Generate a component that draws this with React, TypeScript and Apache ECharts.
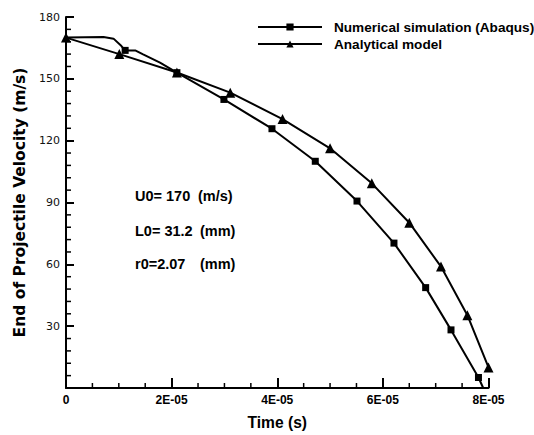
import React, { useEffect, useRef } from 'react';
import * as echarts from 'echarts';

// Numerical simulation (Abaqus): dense curve, markers on selected points
const numTime = [0, 0.71e-5, 0.9e-5, 1.05e-5, 1.12e-5, 1.31e-5, 1.46e-5, 1.78e-5, 2.1e-5, 2.99e-5, 3.9e-5, 4.72e-5, 5.51e-5, 6.21e-5, 6.81e-5, 7.29e-5, 7.81e-5, 7.9e-5];
const numVel = [170, 170.3, 169.5, 165.9, 163.8, 163.8, 161.9, 157.9, 153, 140, 125.8, 110, 90.7, 70.3, 48.7, 28.2, 5.1, 0];
const numMarker = [0, 0, 0, 0, 1, 0, 0, 0, 1, 1, 1, 1, 1, 1, 1, 1, 1, 0];

// Analytical model
const anaTime = [0, 1.01e-5, 2.1e-5, 3.11e-5, 4.1e-5, 5.0e-5, 5.79e-5, 6.5e-5, 7.1e-5, 7.6e-5, 8.0e-5];
const anaVel = [170, 162, 153.1, 143.3, 130.5, 116.3, 99.3, 80.2, 58.9, 35.3, 10];

const seriesNames = ['Numerical simulation (Abaqus)', 'Analytical model'];
const xTickLabels = ['0', '2E-05', '4E-05', '6E-05', '8E-05'];
const annotations = [
  ['U0= 170', '(m/s)'],
  ['L0= 31.2', '(mm)'],
  ['r0=2.07', '(mm)'],
];

const X_MIN = 0, X_MAX = 8e-5, X_INT = 2e-5, X_MINOR = 4;
const Y_MIN = 0, Y_MAX = 180, Y_INT = 30, Y_MINOR = 5;

// minor tick values only (major ticks come from the axes themselves)
function minorTicks(min: number, max: number, interval: number, minor: number) {
  const out: number[] = [];
  const n = Math.round((max - min) / interval) * minor;
  for (let i = 0; i <= n; i++) if (i % minor !== 0) out.push(min + (i * interval) / minor);
  return out;
}

export default function App() {
  const ref = useRef<HTMLDivElement>(null);
  useEffect(() => {
    const chart = echarts.init(ref.current!, null, { renderer: 'svg' });
    const numData = numTime.map((t, i) =>
      numMarker[i] ? { value: [t, numVel[i]] } : { value: [t, numVel[i]], symbol: 'none' }
    );
    const anaData = anaTime.map((t, i) => [t, anaVel[i]]);
    const annY = [196, 231, 264];
    const graphics: any[] = [];
    annotations.forEach((a, i) => {
      graphics.push({
        type: 'text', x: 135, y: annY[i],
        style: { text: a[0], fontFamily: 'Liberation Sans', fontWeight: 'bold', fontSize: 14.5, fill: '#000', verticalAlign: 'middle' },
      });
      graphics.push({
        type: 'text', x: i === 0 ? 198 : 200, y: annY[i],
        style: { text: a[1], fontFamily: 'Liberation Sans', fontWeight: 'bold', fontSize: 14.5, fill: '#000', verticalAlign: 'middle' },
      });
    });
    const yMid = (Y_MIN + Y_MAX) / 2;
    const xMid = (X_MIN + X_MAX) / 2;
    chart.setOption({
      animation: false,
      backgroundColor: '#fff',
      grid: { left: 66, right: 45.5, top: 17, bottom: 41 },
      legend: {
        orient: 'vertical',
        left: 257,
        top: 20,
        padding: 0,
        itemGap: 3,
        itemWidth: 64,
        itemHeight: 9,
        data: seriesNames,
        textStyle: { fontFamily: 'Liberation Sans', fontWeight: 'bold', fontSize: 13.6, color: '#000', padding: [0, 0, 0, 7] },
      },
      xAxis: {
        type: 'value',
        min: X_MIN,
        max: X_MAX,
        interval: X_INT,
        name: 'Time (s)',
        nameLocation: 'middle',
        nameGap: 26,
        nameTextStyle: { fontFamily: 'Liberation Sans', fontWeight: 'bold', fontSize: 15.6, color: '#000' },
        axisLine: { show: true, lineStyle: { color: '#000', width: 2 } },
        axisTick: { show: true, inside: true, length: 10, lineStyle: { color: '#000', width: 2 } },
        splitLine: { show: false },
        axisLabel: {
          margin: 6,
          fontFamily: 'Liberation Sans', fontWeight: 'bold', fontSize: 12, color: '#000',
          formatter: (_v: number, idx: number) => xTickLabels[idx] ?? '',
        },
      },
      yAxis: {
        type: 'value',
        min: Y_MIN,
        max: Y_MAX,
        interval: Y_INT,
        name: 'End of Projectile Velocity (m/s)',
        nameLocation: 'middle',
        nameGap: 25,
        nameTextStyle: { fontFamily: 'DejaVu Sans', fontWeight: 'bold', fontSize: 15.5, color: '#000' },
        axisLine: { show: true, lineStyle: { color: '#000', width: 2 } },
        axisTick: { show: true, inside: true, length: 8, lineStyle: { color: '#000', width: 2 } },
        splitLine: { show: false },
        axisLabel: {
          margin: 6,
          showMinLabel: false,
          fontFamily: 'DejaVu Sans', fontSize: 11, color: '#111',
          formatter: (v: number) => (v === 0 ? '' : String(v)),
        },
      },
      series: [
        {
          name: seriesNames[0],
          type: 'line',
          data: numData,
          symbol: 'rect',
          symbolSize: 7,
          showAllSymbol: true,
          lineStyle: { color: '#000', width: 2 },
          itemStyle: { color: '#000' },
        },
        {
          name: seriesNames[1],
          type: 'line',
          data: anaData,
          symbol: 'triangle',
          symbolSize: 10,
          showAllSymbol: true,
          lineStyle: { color: '#000', width: 2 },
          itemStyle: { color: '#000' },
        },
        {
          name: 'xMinorTicks',
          type: 'custom',
          data: minorTicks(X_MIN, X_MAX, X_INT, X_MINOR).map((v) => [v, yMid]),
          renderItem: (_p: any, api: any) => {
            const pt = api.coord([api.value(0), Y_MIN]);
            return {
              type: 'line',
              shape: { x1: pt[0], y1: pt[1], x2: pt[0], y2: pt[1] - 5 },
              style: { stroke: '#000', lineWidth: 1.5 },
            };
          },
        },
        {
          name: 'yMinorTicks',
          type: 'custom',
          data: minorTicks(Y_MIN, Y_MAX, Y_INT, Y_MINOR).map((v) => [xMid, v]),
          renderItem: (_p: any, api: any) => {
            const pt = api.coord([X_MIN, api.value(1)]);
            return {
              type: 'line',
              shape: { x1: pt[0], y1: pt[1], x2: pt[0] + 5, y2: pt[1] },
              style: { stroke: '#000', lineWidth: 1.5 },
            };
          },
        },
      ],
      graphic: graphics,
    });
    return () => chart.dispose();
  }, []);
  return <div ref={ref} style={{ position: 'fixed', left: 0, top: 0, width: 534, height: 435 }} />;
}
